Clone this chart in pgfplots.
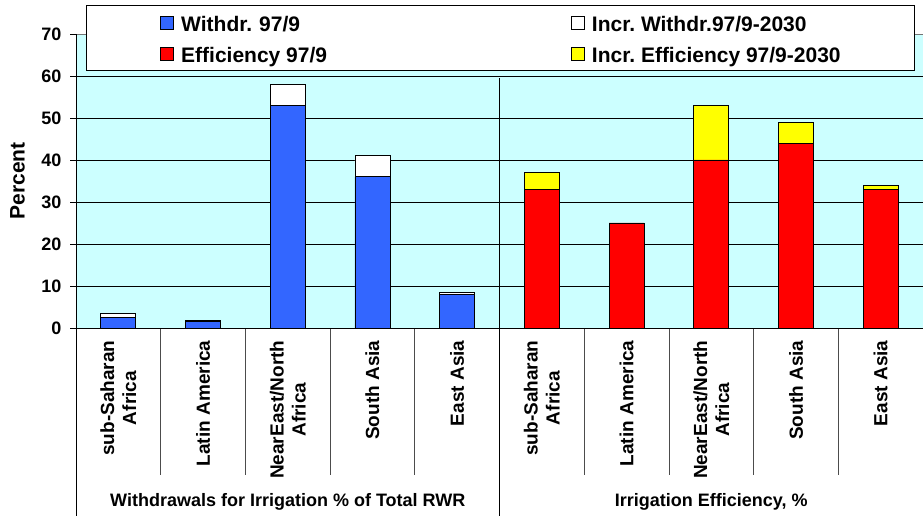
\documentclass[border=0pt]{standalone}
\usepackage{fontspec}
\setmainfont{Liberation Sans}
\usepackage{pgfplots}
\pgfplotsset{compat=1.18}
\definecolor{bgc}{HTML}{CCFFFF}
\definecolor{wblue}{HTML}{3366FF}
\definecolor{ered}{HTML}{FF0000}
\definecolor{eyel}{HTML}{FFFF00}
\begin{document}
\begin{tikzpicture}
\useasboundingbox (-76pt,-188pt) rectangle (847pt,328pt);
\begin{axis}[
  at={(0,0)}, anchor=south west,
  width=847pt, height=294pt, scale only axis,
  ybar stacked, bar width=35pt,
  xmin=-0.5, xmax=9.5, ymin=0, ymax=70,
  clip=false,
  axis background/.style={fill=bgc},
  axis line style={draw=black!55, line width=0.6pt},
  ytick={0,10,...,70},
  ymajorgrids, major grid style={black, line width=0.7pt},
  tick align=outside, major tick length=6pt,
  ytick style={black, line width=0.7pt},
  xtick={0,...,9}, xtick style={draw=none},
  xticklabels={{sub-Saharan\\Africa},{Latin America},{NearEast/North\\Africa},{South Asia},{East Asia},{sub-Saharan\\Africa},{Latin America},{NearEast/North\\Africa},{South Asia},{East Asia}},
  xticklabel style={rotate=90, anchor=east, align=center, font=\fontsize{19}{22}\selectfont\bfseries, xshift=-3pt},
  yticklabel style={font=\fontsize{18}{18}\selectfont\bfseries, anchor=east, xshift=-5pt},
  /pgf/number format/assume math mode=true,
  ylabel={Percent},
  ylabel style={at={(axis description cs:-0.0691,0.5)}, anchor=center, font=\fontsize{21}{21}\selectfont\bfseries},
  legend columns=2,
  legend cell align=left,
  legend image code/.code={\path (0pt,0pt); \draw[#1] (7pt,-6.5pt) rectangle (20pt,6.5pt);},
  legend style={at={(axis description cs:0.0118,1.0986)}, anchor=north west,
    draw=black, line width=0.8pt, fill=white,
    font=\fontsize{21}{21}\selectfont\bfseries,
    inner xsep=67pt, inner ysep=4pt, row sep=5pt,
    nodes={inner xsep=7pt, inner ysep=3pt, text height=18.7pt, text depth=1.3pt}},
]
\addplot[fill=wblue, draw=black, line width=0.8pt] coordinates {(0,2.6) (1,1.5) (2,53) (3,36) (4,8) (5,0) (6,0) (7,0) (8,0) (9,0)};
\addlegendentry[text width=376pt, align=left]{Withdr.\ 97/9}
\addplot[fill=white, draw=black, line width=0.8pt] coordinates {(0,0.9) (1,0.3) (2,5) (3,5) (4,0.5) (5,0) (6,0) (7,0) (8,0) (9,0)};
\addlegendentry{Incr.\ Withdr.97/9-2030}
\addplot[fill=ered, draw=black, line width=0.8pt] coordinates {(0,0) (1,0) (2,0) (3,0) (4,0) (5,33) (6,25) (7,40) (8,44) (9,33)};
\addlegendentry{Efficiency 97/9}
\addplot[fill=eyel, draw=black, line width=0.8pt] coordinates {(0,0) (1,0) (2,0) (3,0) (4,0) (5,4) (6,0) (7,13) (8,5) (9,1)};
\addlegendentry{Incr.\ Efficiency 97/9-2030}
\draw[black, line width=0.8pt] (axis cs:-0.5,70) -- ([yshift=-188pt]axis cs:-0.5,0);
\draw[black, line width=0.8pt] (axis cs:4.5,59.5) -- ([yshift=-188pt]axis cs:4.5,0);
\draw[black, line width=0.7pt] (axis cs:-0.5,0) -- (axis cs:9.5,0);
\draw[black!70, line width=0.7pt] (axis cs:0.5,0) -- ([yshift=-147pt]axis cs:0.5,0);
\draw[black!70, line width=0.7pt] (axis cs:1.5,0) -- ([yshift=-147pt]axis cs:1.5,0);
\draw[black!70, line width=0.7pt] (axis cs:2.5,0) -- ([yshift=-147pt]axis cs:2.5,0);
\draw[black!70, line width=0.7pt] (axis cs:3.5,0) -- ([yshift=-147pt]axis cs:3.5,0);
\draw[black!70, line width=0.7pt] (axis cs:5.5,0) -- ([yshift=-147pt]axis cs:5.5,0);
\draw[black!70, line width=0.7pt] (axis cs:6.5,0) -- ([yshift=-147pt]axis cs:6.5,0);
\draw[black!70, line width=0.7pt] (axis cs:7.5,0) -- ([yshift=-147pt]axis cs:7.5,0);
\draw[black!70, line width=0.7pt] (axis cs:8.5,0) -- ([yshift=-147pt]axis cs:8.5,0);
\node[font=\fontsize{18}{18}\selectfont\bfseries] at ([yshift=-174pt]axis cs:2,0) {Withdrawals for Irrigation \% of Total RWR};
\node[font=\fontsize{18}{18}\selectfont\bfseries] at ([yshift=-174pt]axis cs:7,0) {Irrigation Efficiency, \%};
\end{axis}
\end{tikzpicture}
\end{document}
